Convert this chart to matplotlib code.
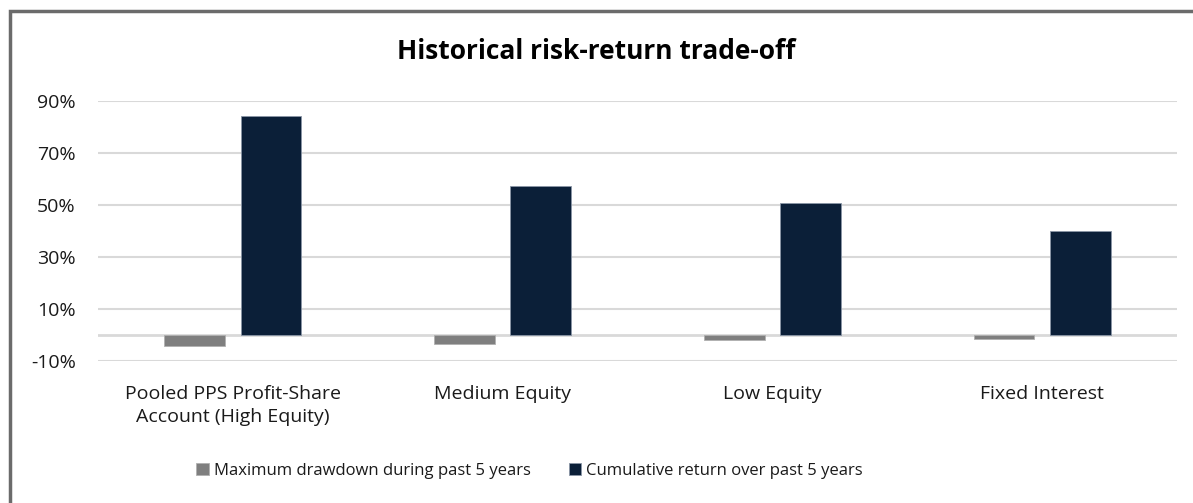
import numpy as np
import matplotlib.pyplot as plt
from matplotlib.patches import Rectangle

plt.rcParams['font.family'] = ['Open Sans', 'DejaVu Sans']

# Data (percent)
categories = ["Pooled PPS Profit-Share\nAccount (High Equity)", "Medium Equity",
              "Low Equity", "Fixed Interest"]
drawdown = [-4.2, -3.5, -2.0, -1.5]
cumulative = [84.2, 57.3, 50.7, 40.0]
series_names = ["Maximum drawdown during past 5 years", "Cumulative return over past 5 years"]
yticks = [-10, 10, 30, 50, 70, 90]

fig = plt.figure(figsize=(11.93, 5.03), dpi=100)
ax = fig.add_axes([0.0821, 0.2823, 0.9045, 0.5169])

x = np.arange(len(categories))
w = 0.225
ax.bar(x - 0.141, drawdown, w, color="#7f7f7f", edgecolor="#b0b0b0", linewidth=0.6,
       label=series_names[0], zorder=3)
ax.bar(x + 0.141, cumulative, w, color="#0b1f38", edgecolor="#8a96a6", linewidth=0.6,
       label=series_names[1], zorder=3)

ax.set_xlim(-0.5, len(categories) - 0.5)
ax.set_ylim(-10, 90)
ax.set_yticks(yticks)
ax.set_yticklabels([f"{v}%" for v in yticks])
ax.yaxis.grid(True, color="#d9d9d9", linewidth=1.5, zorder=0)
ax.axhline(0, color="#d9d9d9", linewidth=2, zorder=2)
ax.set_xticks(x)
ax.set_xticklabels(categories, linespacing=1.38)
for s in ax.spines.values():
    s.set_visible(False)
ax.tick_params(axis="both", length=0, labelsize=14, colors="#1a1a1a")
ax.tick_params(axis="x", pad=17)
ax.tick_params(axis="y", pad=16)

fig.text(0.5, 0.897, "Historical risk-return trade-off", ha="center", va="center",
         fontsize=19, fontweight="bold", color="#000000")

fig.legend(loc="center", bbox_to_anchor=(0.444, 0.064), ncol=2, frameon=False,
           fontsize=12, handlelength=0.75, handleheight=0.75, handletextpad=0.3,
           columnspacing=2.3, labelcolor="#1a1a1a")

fig.patches.append(Rectangle((9.5 / 1193, -0.05), 1.2, 1 - 11 / 503 + 0.05,
                             transform=fig.transFigure, fill=False,
                             edgecolor="#6b6b6b", linewidth=2.5))

fig.savefig("out.png", dpi=100)
